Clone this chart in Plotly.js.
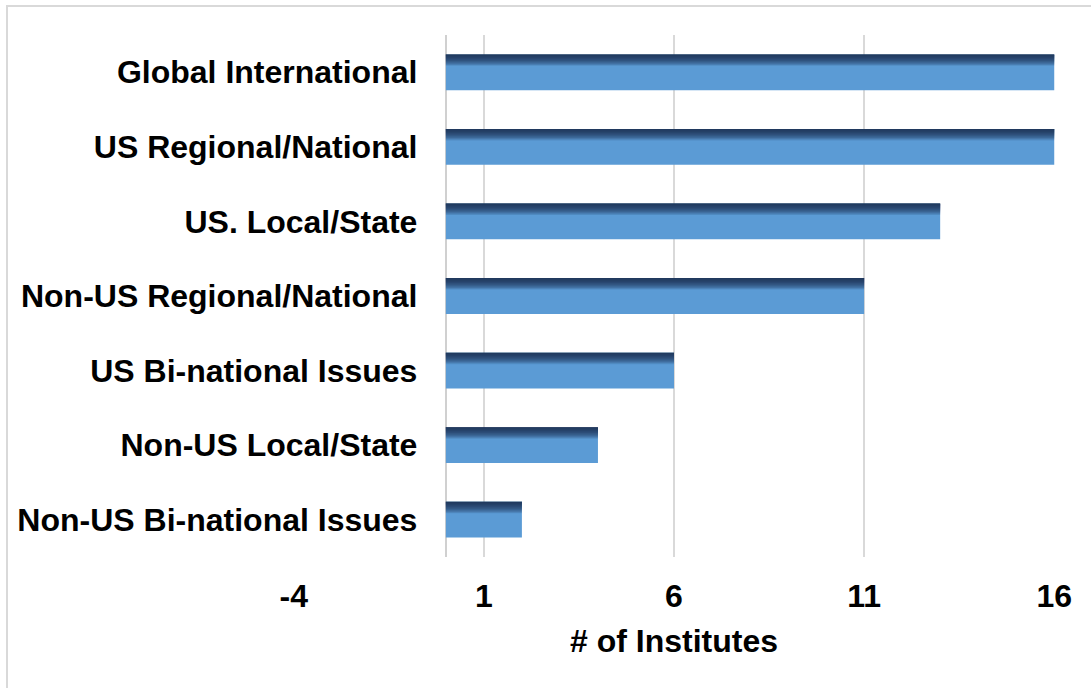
<!DOCTYPE html>
<html>
<head>
<meta charset="utf-8">
<script src="https://cdn.plot.ly/plotly-3.0.1.min.js"></script>
<style>
html,body{margin:0;padding:0;background:#fff;}
#chart{position:absolute;left:0;top:0;width:1091px;height:688px;}
#frame{position:absolute;left:6px;top:5px;width:1200px;height:800px;border-left:2px solid #d9d9d9;border-top:2px solid #d9d9d9;pointer-events:none;}
</style>
</head>
<body>
<div id="chart"></div>
<div id="frame"></div>
<script>
// Data
const categories = [
  "Global International",
  "US Regional/National",
  "US. Local/State",
  "Non-US Regional/National",
  "US Bi-national Issues",
  "Non-US Local/State",
  "Non-US Bi-national Issues"
];
const institutes = [16, 16, 13, 11, 6, 4, 2];
const tickValues = [-4, 1, 6, 11, 16];
const xTitle = "# of Institutes";

const FONT = '"Liberation Sans", Arial, sans-serif';
const BAR_COLOR = '#5b9bd5';
const BAR_W = 0.48;

const traces = [{
  type: 'bar',
  orientation: 'h',
  y: categories,
  x: institutes,
  width: BAR_W,
  marker: {color: BAR_COLOR, line: {width: 0}},
  hoverinfo: 'x+y'
}];

// soft shading along the top edge of each bar (overlapping translucent layers)
const N = 14, dt = 0.011;
for (let k = 0; k < N; k++) {
  traces.push({
    type: 'bar',
    orientation: 'h',
    y: categories,
    x: institutes,
    width: (N - k) * dt,
    offset: -BAR_W / 2,
    marker: {color: 'rgba(25,45,70,0.12)', line: {width: 0}},
    hoverinfo: 'skip',
    showlegend: false
  });
}

const layout = {
  width: 1091,
  height: 688,
  margin: {l: 293, r: 36, t: 35, b: 131},
  paper_bgcolor: '#ffffff',
  plot_bgcolor: '#ffffff',
  barmode: 'overlay',
  showlegend: false,
  font: {family: FONT, color: '#000000'},
  xaxis: {
    range: [-4.02, 16.02],
    tickvals: tickValues,
    ticktext: tickValues.map(String),
    tickfont: {family: FONT, size: 32, weight: 'bold', color: '#000'},
    ticks: '',
    ticklabelstandoff: 17,
    showgrid: true,
    gridcolor: '#d9d9d9',
    gridwidth: 2,
    zeroline: true,
    zerolinecolor: '#d0d0d0',
    zerolinewidth: 2,
    showline: false,
    fixedrange: true,
    title: {text: xTitle, font: {family: FONT, size: 32, weight: 'bold', color: '#000'}, standoff: 16}
  },
  yaxis: {
    type: 'category',
    autorange: 'reversed',
    anchor: 'free',
    position: 0.2,
    showgrid: false,
    zeroline: false,
    showline: false,
    ticks: '',
    ticklabelstandoff: 28,
    tickfont: {family: FONT, size: 32, weight: 'bold', color: '#000'},
    fixedrange: true
  }
};

Plotly.newPlot('chart', traces, layout, {displayModeBar: false, staticPlot: true});
</script>
</body>
</html>
